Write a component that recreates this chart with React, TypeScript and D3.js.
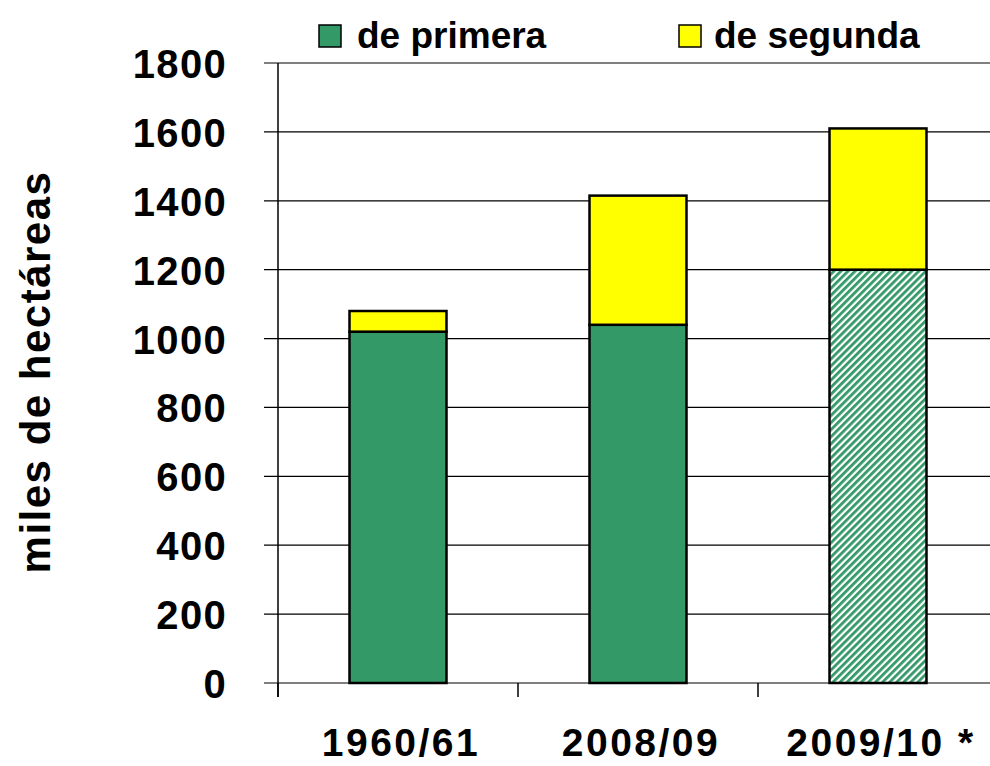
import React from 'react';
import * as d3 from 'd3';

const categories = ['1960/61', '2008/09', '2009/10 *'];
const primera = [1020, 1040, 1200];
const segunda = [60, 375, 410];
const yTicks = [0, 200, 400, 600, 800, 1000, 1200, 1400, 1600, 1800];
const hatched = [false, false, true];

const width = 990;
const height = 766;
const font = 'Liberation Sans, Arial, sans-serif';

const App = () => {
  const x = d3.scaleBand<string>().domain(categories).range([278, 998]).paddingInner(0).paddingOuter(0);
  const y = d3.scaleLinear().domain([0, 1800]).range([683, 63]);
  const barW = 97;
  const green = '#339966';
  const yellow = '#ffff00';

  return (
    <svg width={width} height={height} style={{ position: 'absolute', left: 0, top: 0 }}>
      <defs>
        <pattern id="hatch" patternUnits="userSpaceOnUse" width={5} height={5} patternTransform="rotate(45)">
          <rect width={5} height={5} fill="#fff" />
          <rect width={2.8} height={5} fill={green} />
        </pattern>
      </defs>
      <rect width={width} height={height} fill="#fff" />

      {/* gridlines */}
      {yTicks.map(t => (
        <line key={t} x1={264} x2={width} y1={y(t)} y2={y(t)} stroke="#000" strokeWidth={1.2} />
      ))}
      {/* y axis */}
      <line x1={278} x2={278} y1={y(1800)} y2={y(0) + 14} stroke="#000" strokeWidth={1.5} />
      {/* x ticks */}
      {categories.map(c => (
        <line key={c} x1={x(c)!} x2={x(c)!} y1={y(0)} y2={y(0) + 14} stroke="#000" strokeWidth={1.5} />
      ))}

      {/* bars */}
      {categories.map((c, i) => {
        const cx = x(c)! + x.bandwidth() / 2;
        const total = primera[i] + segunda[i];
        return (
          <g key={c}>
            <rect x={cx - barW / 2} y={y(primera[i])} width={barW} height={y(0) - y(primera[i])}
              fill={hatched[i] ? 'url(#hatch)' : green} stroke="#000" strokeWidth={2.5} />
            <rect x={cx - barW / 2} y={y(total)} width={barW} height={y(primera[i]) - y(total)}
              fill={yellow} stroke="#000" strokeWidth={2.5} />
          </g>
        );
      })}

      {/* y tick labels */}
      {yTicks.map(t => (
        <text key={t} x={227} y={y(t) + 15} textAnchor="end" fontFamily={font} fontWeight="bold"
          fontSize={40} letterSpacing={1.3}>{t}</text>
      ))}

      {/* x labels */}
      {categories.map(c => (
        <text key={c} x={x(c)! + x.bandwidth() / 2 + 3} y={756} textAnchor="middle" fontFamily={font}
          fontWeight="bold" fontSize={39} letterSpacing={2.5}>{c}</text>
      ))}

      {/* y title */}
      <text transform="translate(50,372) rotate(-90)" textAnchor="middle" fontFamily={font}
        fontWeight="bold" fontSize={42} letterSpacing={1.5}>miles de hectáreas</text>

      {/* legend */}
      <rect x={319} y={25} width={22} height={22} fill={green} stroke="#000" strokeWidth={1.5} />
      <text x={357} y={48} fontFamily={font} fontWeight="bold" fontSize={37}>de primera</text>
      <rect x={679} y={25} width={22} height={22} fill={yellow} stroke="#000" strokeWidth={1.5} />
      <text x={714} y={48} fontFamily={font} fontWeight="bold" fontSize={37}>de segunda</text>
    </svg>
  );
};

export default App;
